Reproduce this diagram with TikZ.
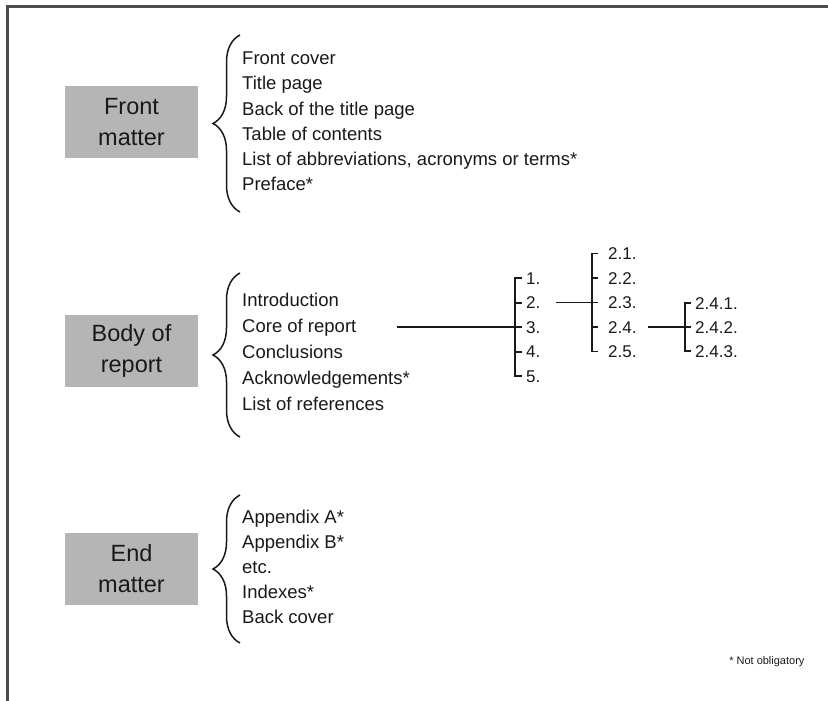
\documentclass[tikz,border=0pt]{standalone}
\usepackage{fontspec}
\setmainfont{Liberation Sans}
\usetikzlibrary{decorations.pathreplacing}
\definecolor{partgray}{gray}{0.71}
\definecolor{ink}{gray}{0.1}
\tikzstyle{part} = [rectangle, fill=partgray, text=ink, align=center,
    minimum width=133pt, minimum height=72pt, font=\fontsize{23.5}{31}\selectfont]
\tikzstyle{entry} = [anchor=west, inner sep=0pt, text=ink, text height=14pt, text depth=4pt,
    font=\fontsize{18.5}{25}\selectfont]
\tikzstyle{num} = [anchor=west, inner sep=0pt, text=ink, text height=12pt, text depth=0pt,
    font=\fontsize{17}{20}\selectfont]
\tikzstyle{curly} = [draw=ink, line width=1.5pt, decorate, decoration={brace, amplitude=27pt}]
\tikzstyle{line} = [draw=ink, line width=2pt]
\tikzstyle{thinline} = [draw=ink, line width=1.1pt]
\tikzstyle{frame} = [draw=black!70, line width=3pt]

\begin{document}
\begin{tikzpicture}[x=1pt, y=-1pt]
 \useasboundingbox (0,0) rectangle (828,701);
 \path [frame] (828,6.5) -- (7.5,6.5) -- (7.5,701);
 \node at (131.5,122) [part, name=front] {Front\\matter};
 \node at (131.5,351) [part, name=body] {Body of\\report};
 \node at (131.5,568.5) [part, name=endm] {End\\matter};
    \path [curly] (240,212) -- (240,35);
    \path [curly] (240,437) -- (240,273);
    \path [curly] (240,643) -- (240,495);
 \foreach \txt [count=\i] in {Front cover, Title page, Back of the title page, Table of contents,
     {List of abbreviations, acronyms or terms*}, Preface*}
    \node [entry] (fm\i) at (242, 35+25*\i) {\txt};
 \foreach \txt [count=\i] in {Introduction, Core of report, Conclusions, Acknowledgements*,
     List of references}
    \node [entry] (bm\i) at (242, 275+26*\i) {\txt};
 \foreach \txt [count=\i] in {Appendix A*, Appendix B*, etc., Indexes*, Back cover}
    \node [entry] (em\i) at (242, 493+25*\i) {\txt};
 \foreach \i in {1,...,5}
    \node [num] (n\i) at (526, 253.5+24.5*\i) {\i.};
 \foreach \i in {1,...,5}
    \node [num] (s\i) at (608, 229+24.5*\i) {2.\i.};
 \foreach \i in {1,2,3}
    \node [num] (t\i) at (695, 279+24*\i) {2.4.\i.};
    \path [line] ([xshift=-4pt]n1.west) -- ++(-7,0) |- ([xshift=-4pt]n5.west);
    \foreach \i in {2,3,4} \path [line] ([xshift=-4pt]n\i.west) -- ++(-7,0);
    \path [thinline, line width=1.6pt] ([xshift=-10pt]s1.west) -- ++(-6,0) |- ([xshift=-10pt]s5.west);
    \foreach \i in {2,3,4} \path [thinline, line width=1.6pt] ([xshift=-10pt]s\i.west) -- ++(-6,0);
    \path [line, line width=2.4pt] ([xshift=-4pt]t1.west) -- ++(-6,0) |- ([xshift=-4pt]t3.west);
    \path [line, line width=2.4pt] ([xshift=-4pt]t2.west) -- ++(-6,0);
 \path [line] ([xshift=40pt]bm2.east) -- ([xshift=-4pt]n3.west);
 \path [thinline] ([xshift=15pt]n2.east) -- ([xshift=-10pt]s3.west);
 \path [line] ([xshift=11pt]s4.east) -- ([xshift=-4pt]t2.west);
 \node [anchor=east, text=ink, font=\fontsize{11}{13}\selectfont] (note) at (808,662) {* Not obligatory};
\end{tikzpicture}
\end{document}
